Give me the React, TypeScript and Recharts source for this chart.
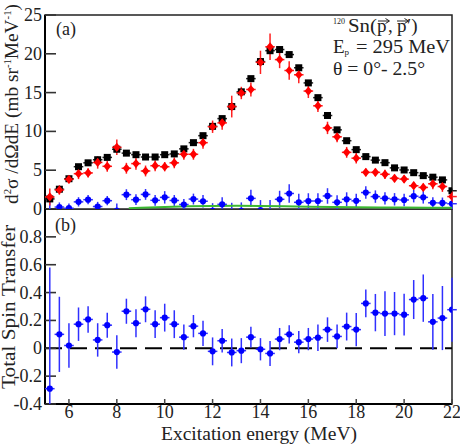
import React from "react";
import {
  ScatterChart,
  Scatter,
  XAxis,
  YAxis,
  ErrorBar,
  ReferenceLine,
  ReferenceArea,
} from "recharts";

// ---------- data ----------
const energies = [
  5.2, 5.6, 6.0, 6.4, 6.8, 7.2, 7.6, 8.0, 8.4, 8.8, 9.2, 9.6, 10.0, 10.4, 10.8,
  11.2, 11.6, 12.0, 12.4, 12.8, 13.2, 13.6, 14.0, 14.4, 14.8, 15.2, 15.6, 16.0,
  16.4, 16.8, 17.2, 17.6, 18.0, 18.4, 18.8, 19.2, 19.6, 20.0, 20.4, 20.8, 21.2,
  21.6, 22.0,
];

const totalXs = [
  1.3, 2.55, 3.9, 5.45, 5.95, 6.35, 6.65, 7.7, 7.2, 7.0, 6.7, 6.7, 7.0, 7.1,
  7.75, 8.55, 9.45, 10.65, 11.65, 13.2, 15.1, 16.8, 19.0, 20.4, 20.55, 19.9,
  18.2, 16.25, 14.35, 12.05, 10.2, 8.8, 7.65, 6.75, 6.3, 5.97, 5.3, 5.03, 4.68,
  4.3, 4.1, 3.75, 2.35,
];
const totalErr = [
  0.3, 0.3, 0.3, 0.3, 0.3, 0.3, 0.3, 0.3, 0.3, 0.3, 0.3, 0.3, 0.3, 0.3, 0.3,
  0.3, 0.3, 0.3, 0.3, 0.3, 0.3, 0.3, 0.3, 0.3, 0.3, 0.3, 0.3, 0.3, 0.3, 0.3,
  0.3, 0.3, 0.3, 0.3, 0.3, 0.3, 0.3, 0.3, 0.3, 0.3, 0.3, 0.3, 0.3,
];

const nonSpinFlip = [
  1.55, 2.45, 3.82, 4.55, 4.65, 6.0, 5.5, 7.95, 5.25, 5.85, 4.9, 5.58, 5.45,
  5.95, 7.05, 7.05, 8.55, 10.6, 11.1, 13.2, 14.95, 15.4, 18.9, 20.9, 19.25,
  17.85, 17.3, 15.2, 13.3, 10.45, 9.3, 7.3, 6.55, 4.72, 4.72, 4.47, 3.95, 3.85,
  3.0, 2.78, 3.25, 2.9, 1.6,
];
const nonSpinFlipErr = [
  1.1, 0.6, 0.5, 0.7, 0.6, 0.8, 0.7, 1.0, 0.7, 0.8, 0.7, 0.7, 0.6, 0.7, 0.7,
  0.7, 0.8, 0.8, 0.9, 1.4, 0.8, 0.9, 1.5, 1.7, 1.1, 1.2, 1.1, 0.9, 0.8, 0.8,
  0.7, 0.7, 0.7, 0.5, 0.5, 0.6, 0.5, 0.5, 0.5, 0.5, 0.7, 0.7, 0.7,
];

const spinFlip = [
  -0.4, 0.25, 0.1, 0.92, 1.2, 0.32, 1.07, -0.2, 1.85, 1.2, 1.88, 1.12, 1.5,
  1.1, 0.58, 1.28, 1.0, -0.25, 0.6, -0.4, -0.25, 1.37, -0.15, -0.75, 1.25, 2.0,
  0.86, 1.03, 1.03, 1.68, 0.86, 1.25, 1.05, 2.12, 1.6, 1.37, 1.25, 1.16, 1.65,
  1.5, 0.8, 0.78, 0.68,
];
const spinFlipErr = [
  1.35, 0.6, 0.6, 0.6, 0.6, 0.6, 0.6, 0.9, 0.7, 0.7, 0.7, 0.7, 0.8, 0.7, 0.7,
  0.7, 0.8, 1.0, 0.9, 1.2, 1.1, 1.1, 1.3, 1.9, 1.1, 1.2, 1.1, 1.0, 1.0, 1.0,
  0.9, 0.9, 0.9, 0.8, 0.8, 0.8, 0.8, 0.8, 0.8, 0.8, 0.7, 0.7, 0.7,
];

const greenE = [8.5, 9, 10, 11, 12, 13, 14, 15, 16, 17, 18, 19, 20, 21, 22];
const greenY = [
  0.1, 0.15, 0.25, 0.35, 0.4, 0.42, 0.4, 0.35, 0.3, 0.25, 0.22, 0.2, 0.18, 0.17,
  0.16,
];

const spinTransfer = [
  -0.29, 0.1, 0.02, 0.173, 0.207, 0.06, 0.166, -0.027, 0.266, 0.18, 0.28, 0.173,
  0.22, 0.173, 0.08, 0.159, 0.107, -0.022, 0.054, -0.03, -0.017, 0.08, -0.007,
  -0.037, 0.066, 0.1, 0.044, 0.066, 0.076, 0.134, 0.085, 0.156, 0.134, 0.322,
  0.256, 0.249, 0.249, 0.241, 0.35, 0.36, 0.19, 0.217, 0.277,
];
const spinTransferErr = [
  0.87, 0.27, 0.16, 0.12, 0.095, 0.12, 0.09, 0.12, 0.09, 0.1, 0.093, 0.1, 0.1,
  0.1, 0.09, 0.08, 0.09, 0.1, 0.085, 0.1, 0.09, 0.075, 0.08, 0.09, 0.08, 0.065,
  0.08, 0.08, 0.095, 0.088, 0.085, 0.1, 0.12, 0.1, 0.134, 0.16, 0.155, 0.15,
  0.14, 0.17, 0.2, 0.23, 0.23,
];

const binHalfWidth = 0.2;

const xDomain: [number, number] = [5, 22];
const topDomain: [number, number] = [0, 25];
const bottomDomain: [number, number] = [-0.4, 1.0];
const topYTicks = [0, 5, 10, 15, 20, 25];
const bottomYTicks = [-0.4, -0.2, 0, 0.2, 0.4, 0.6, 0.8];
const xTicks = [6, 8, 10, 12, 14, 16, 18, 20, 22];

// ---------- derived tables ----------
const mk = (ys: number[], errs: number[]) =>
  energies.map((e, i) => ({ x: e, y: ys[i], ey: errs[i], ex: binHalfWidth }));

const blackData = mk(totalXs, totalErr);
const redData = mk(nonSpinFlip, nonSpinFlipErr);
const blueData = mk(spinFlip, spinFlipErr);
const stData = mk(spinTransfer, spinTransferErr);
const greenData = greenE.map((e, i) => ({ x: e, y: greenY[i] }));

const FONT = "'Liberation Serif', 'DejaVu Serif', serif";

// plot geometry
const PLOT_LEFT = 45;
const PLOT_W = 407;
const TOP_Y0 = 15;
const TOP_H = 194;
const BOT_Y0 = 209;
const BOT_H = 195;

const YTick = (props: any) => {
  const { x, y, payload, fmt } = props;
  return (
    <g>
      <line x1={x} x2={x + 11} y1={y} y2={y} stroke="#333" strokeWidth={1.6} />
      <text
        x={x - 3}
        y={y}
        dy={6}
        textAnchor="end"
        fontFamily={FONT}
        fontSize={18}
        fill="#222"
      >
        {fmt ? fmt(payload.value) : payload.value}
      </text>
    </g>
  );
};

const XTick = (props: any) => {
  const { x, y, payload, showLabel } = props;
  return (
    <g>
      <line x1={x} x2={x} y1={y} y2={y - 5} stroke="#444" strokeWidth={1.5} />
      {showLabel ? (
        <text
          x={x}
          y={y + 14}
          textAnchor="middle"
          fontFamily={FONT}
          fontSize={18}
          fill="#222"
        >
          {payload.value}
        </text>
      ) : null}
    </g>
  );
};

const noShape = () => <g />;
const BlackSquare = (p: any) => (
  <rect x={p.cx - 3.5} y={p.cy - 3.5} width={7} height={7} fill="#000" />
);
const RedDiamond = (p: any) => (
  <path
    d={`M${p.cx} ${p.cy - 4.6} L${p.cx + 3.8} ${p.cy} L${p.cx} ${p.cy + 4.6} L${p.cx - 3.8} ${p.cy} Z`}
    fill="#ff0000"
  />
);
const BlueDot = (p: any) => <circle cx={p.cx} cy={p.cy} r={3.1} fill="#0000ff" />;

const fmtST = (v: number) => (v === 0 ? "0" : v.toFixed(1));

const hiddenX = (
  <XAxis type="number" dataKey="x" domain={xDomain} allowDataOverflow hide />
);

export default function App() {
  return (
    <div
      style={{
        position: "absolute",
        left: 0,
        top: 0,
        width: 460,
        height: 446,
        background: "#fff",
      }}
    >
      {/* ---- top panel: axes ---- */}
      <div style={{ position: "absolute", left: 0, top: 0 }}>
        <ScatterChart
          width={460}
          height={222}
          margin={{ top: TOP_Y0, right: 8, bottom: 13, left: 0 }}
        >
          <XAxis
            type="number"
            dataKey="x"
            domain={xDomain}
            ticks={xTicks}
            allowDataOverflow
            height={0}
            tickSize={0}
            tickMargin={0}
            tickLine={false}
            axisLine={{ stroke: "#000", strokeWidth: 2 }}
            tick={<XTick showLabel={false} />}
            interval={0}
          />
          <YAxis
            type="number"
            dataKey="y"
            domain={topDomain}
            ticks={topYTicks}
            allowDataOverflow
            width={PLOT_LEFT}
            tickSize={0}
            tickMargin={0}
            tickLine={false}
            axisLine={{ stroke: "#000", strokeWidth: 2 }}
            tick={<YTick />}
            interval={0}
          />
          <ReferenceArea
            x1={5}
            x2={22}
            y1={0}
            y2={25}
            fill="none"
            fillOpacity={0}
            stroke="#222"
            strokeWidth={1.5}
          />
        </ScatterChart>
      </div>

      {/* ---- bottom panel: axes ---- */}
      <div style={{ position: "absolute", left: 0, top: BOT_Y0 }}>
        <ScatterChart
          width={460}
          height={237}
          margin={{ top: 0, right: 8, bottom: 0, left: 0 }}
        >
          <XAxis
            type="number"
            dataKey="x"
            domain={xDomain}
            ticks={xTicks}
            allowDataOverflow
            height={42}
            tickSize={0}
            tickMargin={0}
            tickLine={false}
            axisLine={{ stroke: "#000", strokeWidth: 2 }}
            tick={<XTick showLabel={true} />}
            interval={0}
          />
          <YAxis
            type="number"
            dataKey="y"
            domain={bottomDomain}
            ticks={bottomYTicks}
            allowDataOverflow
            width={PLOT_LEFT}
            tickSize={0}
            tickMargin={0}
            tickLine={false}
            axisLine={{ stroke: "#000", strokeWidth: 2 }}
            tick={<YTick fmt={fmtST} />}
            interval={0}
          />
          <ReferenceArea
            x1={5}
            x2={22}
            y1={-0.4}
            y2={1.0}
            fill="none"
            fillOpacity={0}
            stroke="#222"
            strokeWidth={1.5}
          />
          <ReferenceLine
            y={0}
            stroke="#000"
            strokeWidth={2}
            strokeDasharray="17 8"
          />
        </ScatterChart>
      </div>

      {/* ---- top panel: data (svg = plot area, clips overflow) ---- */}
      <div style={{ position: "absolute", left: PLOT_LEFT, top: TOP_Y0 }}>
        <ScatterChart
          width={PLOT_W + 5}
          height={TOP_H}
          margin={{ top: 0, right: 5, bottom: 0, left: 0 }}
        >
          {hiddenX}
          <YAxis type="number" dataKey="y" domain={topDomain} allowDataOverflow hide />
          <Scatter
            data={greenData}
            line={{ stroke: "#3cb832", strokeWidth: 2 }}
            shape={noShape}
            isAnimationActive={false}
          />
          <Scatter data={blueData} shape={BlueDot} isAnimationActive={false}>
            <ErrorBar dataKey="ey" direction="y" width={0} stroke="#3030ff" strokeWidth={1.5} />
            <ErrorBar dataKey="ex" direction="x" width={0} stroke="#3030ff" strokeWidth={1.5} />
          </Scatter>
          <Scatter data={blackData} shape={BlackSquare} isAnimationActive={false}>
            <ErrorBar dataKey="ey" direction="y" width={0} stroke="#222" strokeWidth={1.2} />
            <ErrorBar dataKey="ex" direction="x" width={0} stroke="#222" strokeWidth={1.5} />
          </Scatter>
          <Scatter data={redData} shape={RedDiamond} isAnimationActive={false}>
            <ErrorBar dataKey="ey" direction="y" width={0} stroke="#ff2020" strokeWidth={1.5} />
            <ErrorBar dataKey="ex" direction="x" width={0} stroke="#ff2020" strokeWidth={1.5} />
          </Scatter>
        </ScatterChart>
      </div>

      {/* ---- bottom panel: data ---- */}
      <div style={{ position: "absolute", left: PLOT_LEFT, top: BOT_Y0 }}>
        <ScatterChart
          width={PLOT_W + 5}
          height={BOT_H}
          margin={{ top: 0, right: 5, bottom: 0, left: 0 }}
        >
          {hiddenX}
          <YAxis type="number" dataKey="y" domain={bottomDomain} allowDataOverflow hide />
          <Scatter data={stData} shape={BlueDot} isAnimationActive={false}>
            <ErrorBar dataKey="ey" direction="y" width={0} stroke="#3030ff" strokeWidth={1.5} />
            <ErrorBar dataKey="ex" direction="x" width={0} stroke="#3030ff" strokeWidth={1.5} />
          </Scatter>
        </ScatterChart>
      </div>

      {/* ---- texts ---- */}
      <svg
        width={460}
        height={446}
        style={{ position: "absolute", left: 0, top: 0, pointerEvents: "none" }}
        fontFamily={FONT}
        fill="#222"
      >
        <text x={56} y={35} fontSize={18}>(a)</text>
        <text x={55} y={231} fontSize={18}>(b)</text>

        <text x={333} y={24} fontSize={8}>120</text>
        <text x={348} y={32} fontSize={19} textLength={29} lengthAdjust="spacingAndGlyphs">Sn(</text>
        <text x={377} y={32} fontSize={19}>p</text>
        <text x={388} y={32} fontSize={19}>,</text>
        <text x={397} y={32} fontSize={19}>p</text>
        <text x={407} y={32} fontSize={19}>′)</text>
        <g stroke="#222" strokeWidth={1} fill="none">
          <line x1={378} x2={389} y1={21} y2={21} />
          <path d="M385.5 18.5 L389.5 21 L385.5 23.5" />
          <line x1={397} x2={408} y1={21} y2={21} />
          <path d="M404.5 18.5 L408.5 21 L404.5 23.5" />
        </g>
        <text x={333} y={53} fontSize={19}>
          E<tspan fontSize={9} dy={2}>p</tspan>
        </text>
        <text x={356} y={53} fontSize={19} textLength={94} lengthAdjust="spacingAndGlyphs">
          = 295 MeV
        </text>
        <text x={333} y={75} fontSize={19} textLength={92} lengthAdjust="spacingAndGlyphs">
          θ = 0°- 2.5°
        </text>

        <text
          x={259}
          y={440}
          fontSize={18}
          textAnchor="middle"
          textLength={196}
          lengthAdjust="spacingAndGlyphs"
        >
          Excitation energy (MeV)
        </text>
        <text
          x={15}
          y={307}
          fontSize={18}
          textAnchor="middle"
          textLength={164}
          lengthAdjust="spacingAndGlyphs"
          transform="rotate(-90 15 307)"
        >
          Total Spin Transfer
        </text>
        <text
          x={18}
          y={204}
          fontSize={18}
          textAnchor="start"
          textLength={200}
          lengthAdjust="spacingAndGlyphs"
          transform="rotate(-90 18 204)"
        >
          d<tspan fontSize={10} dy={-7}>2</tspan>
          <tspan dy={7}>σ /dΩdE (mb sr</tspan>
          <tspan fontSize={10} dy={-7}>-1</tspan>
          <tspan dy={7}>MeV</tspan>
          <tspan fontSize={10} dy={-7}>-1</tspan>
          <tspan dy={7}>)</tspan>
        </text>
      </svg>
    </div>
  );
}
